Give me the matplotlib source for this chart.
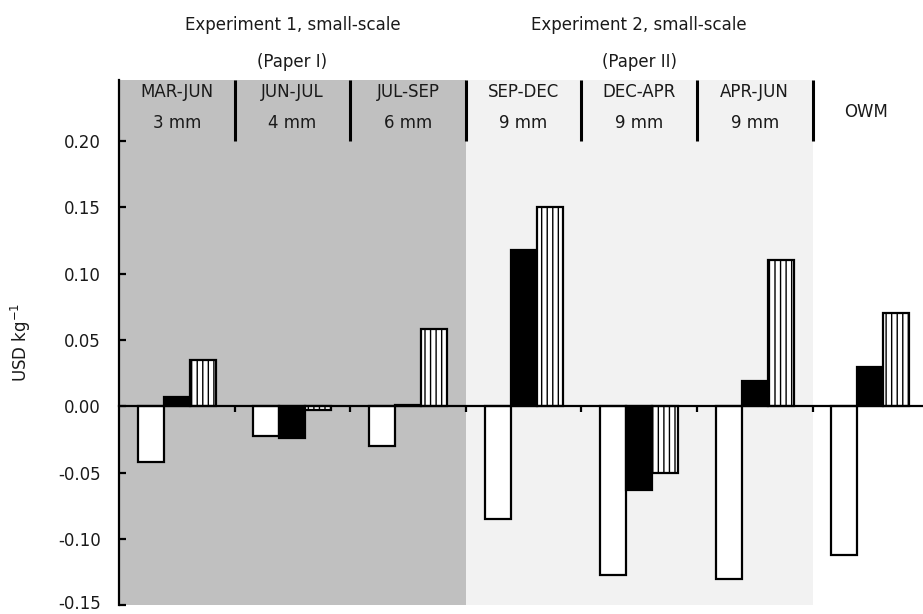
import matplotlib
matplotlib.use("Agg")
import matplotlib.pyplot as plt
import matplotlib.transforms as mtransforms
import numpy as np

plt.rcParams['font.family'] = ['DejaVu Sans']
plt.rcParams['hatch.linewidth'] = 1.0

# Periods (top label line), mesh sizes (second line)
periods = ["MAR-JUN", "JUN-JUL", "JUL-SEP", "SEP-DEC", "DEC-APR", "APR-JUN"]
mesh = ["3 mm", "4 mm", "6 mm", "9 mm", "9 mm", "9 mm"]
last_group = "OWM"

# Three series per group (USD per kg)
series_white = [-0.042, -0.022, -0.030, -0.085, -0.127, -0.130, -0.112]
series_black = [0.007, -0.024, 0.001, 0.118, -0.063, 0.019, 0.030]
series_hatch = [0.035, -0.003, 0.058, 0.150, -0.050, 0.110, 0.070]

experiments = ["Experiment 1, small-scale", "Experiment 2, small-scale"]
papers = ["(Paper I)", "(Paper II)"]

yticks = [-0.15, -0.10, -0.05, 0.00, 0.05, 0.10, 0.15, 0.20]

text_color = "#1a1a1a"
fs = 12

fig = plt.figure(figsize=(9.23, 6.14), dpi=100)
ax = fig.add_axes([119 / 923, 1 - 605.3 / 614, 804 / 923, (605.3 - 80) / 614])

ymin, ymax = -0.15, 0.246
ax.set_ylim(ymin, ymax)
ax.set_xlim(0, 804 / 115.6)

# Background shading for the two experiments
ax.axvspan(0, 3, color="#c0c0c0", lw=0, zorder=0)
ax.axvspan(3, 6, color="#f2f2f2", lw=0, zorder=0)

n = len(series_white)
x = np.arange(n) + 0.5
w = 0.225
ax.bar(x - w, series_white, w, color="white", edgecolor="black", lw=1.6, zorder=3)
ax.bar(x, series_black, w, color="black", edgecolor="black", lw=1.6, zorder=3)
ax.bar(x + w, series_hatch, w, color="white", edgecolor="black", lw=1.6,
       hatch="|||", zorder=3)

# Group separators in the header band
ax.vlines(np.arange(1, 7), 0.20, ymax, color="black", lw=2.2, zorder=4)

# Header labels inside the plot
for i, (p, m) in enumerate(zip(periods, mesh)):
    ax.text(i + 0.5, 0.2367, p, ha="center", va="center", fontsize=fs, color=text_color)
    ax.text(i + 0.5, 0.2133, m, ha="center", va="center", fontsize=fs, color=text_color)
ax.text(6.46, 0.2215, last_group, ha="center", va="center", fontsize=fs, color=text_color)

# Experiment titles above the axes
for k, (e, p) in enumerate(zip(experiments, papers)):
    cx = 1.5 + 3 * k
    ax.text(cx, 0.2872, e, ha="center", va="center", fontsize=fs,
            color=text_color, clip_on=False)
    ax.text(cx, 0.2593, p, ha="center", va="center", fontsize=fs,
            color=text_color, clip_on=False)

# Axes styling
for s in ("top", "right"):
    ax.spines[s].set_visible(False)
ax.spines["left"].set_linewidth(1.6)
ax.spines["bottom"].set_linewidth(1.6)
ax.spines["bottom"].set_position(("data", 0))
ax.spines["bottom"].set_zorder(5)

ax.set_yticks(yticks)
ax.set_yticklabels([f"{v:.2f}" for v in yticks])
ax.tick_params(axis="y", direction="in", length=5, width=1.6, pad=13,
               labelsize=fs, labelcolor=text_color)
# keep the lowest tick label inside the figure
lowest = ax.get_yticklabels()[0]
lowest.set_transform(lowest.get_transform() +
                     mtransforms.ScaledTranslation(0, 3 / 100, fig.dpi_scale_trans))
ax.set_xticks(np.arange(1, 7))
ax.set_xticklabels([])
ax.tick_params(axis="x", direction="out", length=4, width=1.6)

ax.set_ylabel("USD kg$^{-1}$", fontsize=fs, color=text_color)
ax.yaxis.set_label_coords((33 - 119) / 804, 0.5)

fig.savefig("out.png", dpi=100)
